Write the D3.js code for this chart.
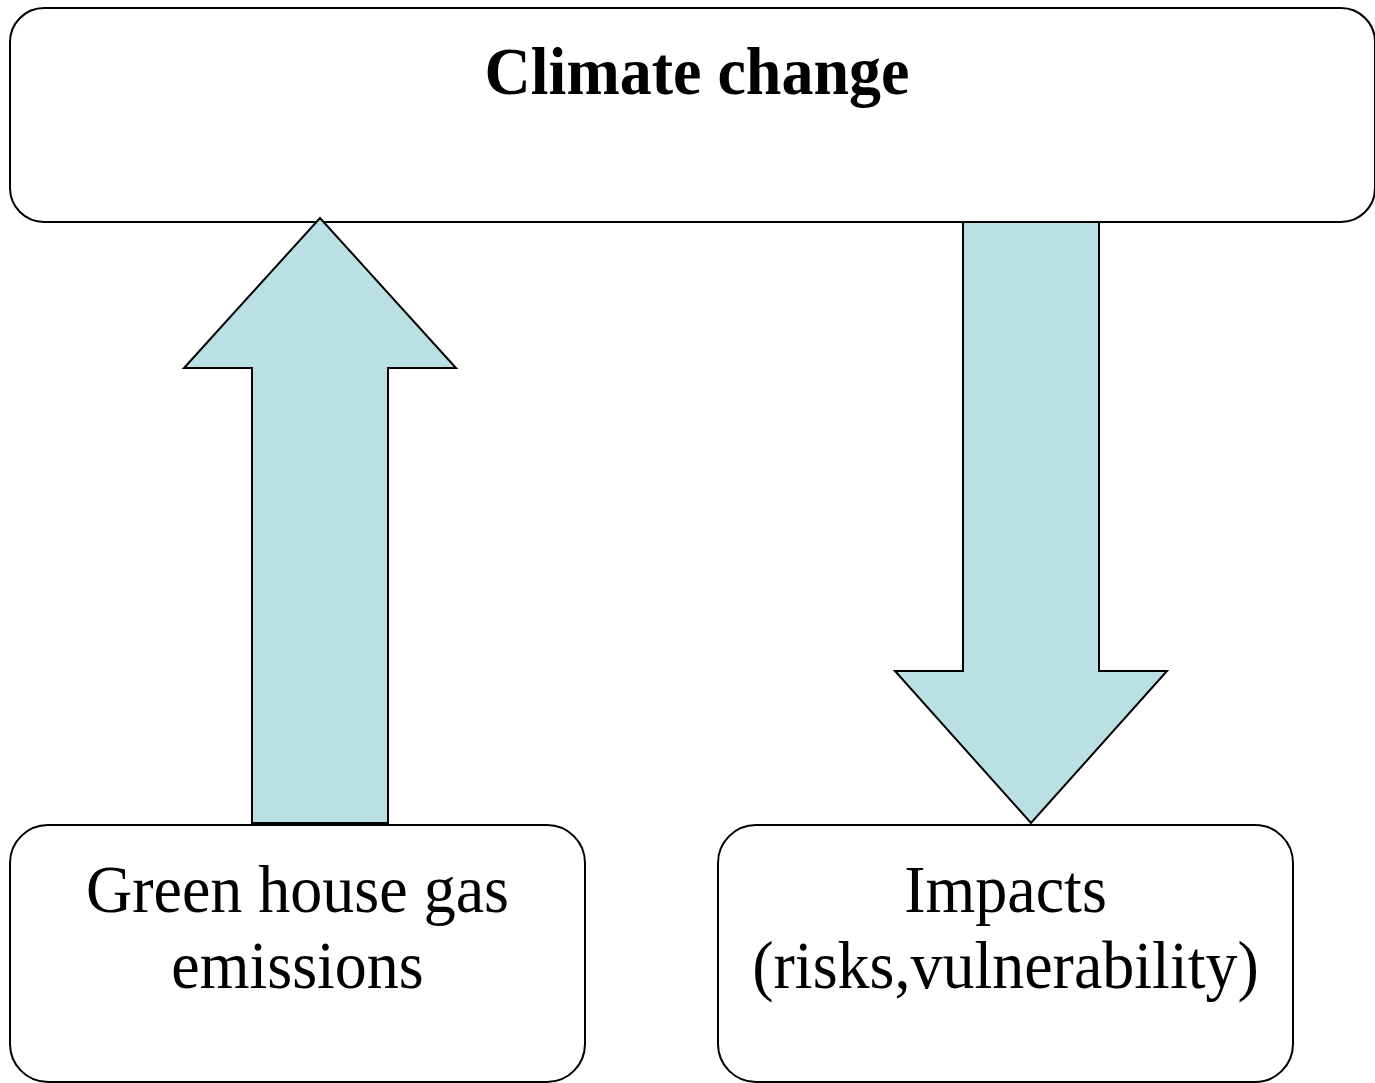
<!DOCTYPE html>
<html>
<head>
<meta charset="utf-8">
<script src="https://cdn.jsdelivr.net/npm/d3@7"></script>
<style>
  html, body { margin: 0; padding: 0; background: #fff; overflow: hidden; }
  svg { display: block; }
</style>
</head>
<body>
<div id="chart"></div>
<script>
const width = 1375, height = 1083;

// texts of the diagram
const titleText = "Climate change";
const causeLines = ["Green house gas", "emissions"];
const impactLines = ["Impacts", "(risks,vulnerability)"];
const arrowDirs = ["up", "down"];

const fill = "#bbe0e3";
const font = "'Liberation Serif', 'Times New Roman', serif";
const stretch = 1.06; // slide is a bit taller than 4:3

const svg = d3.select("#chart").append("svg")
    .attr("width", width)
    .attr("height", height);

// boxes
const boxes = [
  {x0: 10, y0: 8, x1: 1375, y1: 222, r: 34},
  {x0: 10, y0: 825, x1: 585, y1: 1082, r: 38},
  {x0: 718, y0: 825, x1: 1293, y1: 1082, r: 38}
];

// arrows: centre, half shaft width, half head width, tail y, head base y, tip y
const arrowGeom = {
  up:   {cx: 320, sw: 68, hw: 136, tail: 823, base: 368, tip: 218},
  down: {cx: 1031, sw: 68, hw: 136, tail: 222, base: 671, tip: 823}
};

function arrowPath(g) {
  const p = d3.path();
  p.moveTo(g.cx - g.sw, g.tail);
  p.lineTo(g.cx - g.sw, g.base);
  p.lineTo(g.cx - g.hw, g.base);
  p.lineTo(g.cx, g.tip);
  p.lineTo(g.cx + g.hw, g.base);
  p.lineTo(g.cx + g.sw, g.base);
  p.lineTo(g.cx + g.sw, g.tail);
  p.closePath();
  return p.toString();
}

svg.append("g")
  .selectAll("rect")
  .data(boxes)
  .join("rect")
    .attr("x", d => d.x0)
    .attr("y", d => d.y0)
    .attr("width", d => d.x1 - d.x0)
    .attr("height", d => d.y1 - d.y0)
    .attr("rx", d => d.r)
    .attr("ry", d => d.r)
    .attr("fill", "#fff")
    .attr("stroke", "#000")
    .attr("stroke-width", 2);

svg.append("g")
  .selectAll("path")
  .data(arrowDirs)
  .join("path")
    .attr("d", d => arrowPath(arrowGeom[d]))
    .attr("fill", fill)
    .attr("stroke", "#000")
    .attr("stroke-width", 2)
    .attr("stroke-linejoin", "miter");

function label(txt, x, y, bold) {
  svg.append("text")
      .attr("transform", `translate(${x},${y}) scale(1,${stretch})`)
      .attr("text-anchor", "middle")
      .attr("font-family", font)
      .attr("font-weight", bold ? "bold" : "normal")
      .attr("font-size", 64)
      .text(txt);
}

label(titleText, 697, 94, true);

causeLines.forEach((t, i) =>
  label(t, (boxes[1].x0 + boxes[1].x1) / 2, 912 + i * 76));
impactLines.forEach((t, i) =>
  label(t, (boxes[2].x0 + boxes[2].x1) / 2, 912 + i * 76));
</script>
</body>
</html>
